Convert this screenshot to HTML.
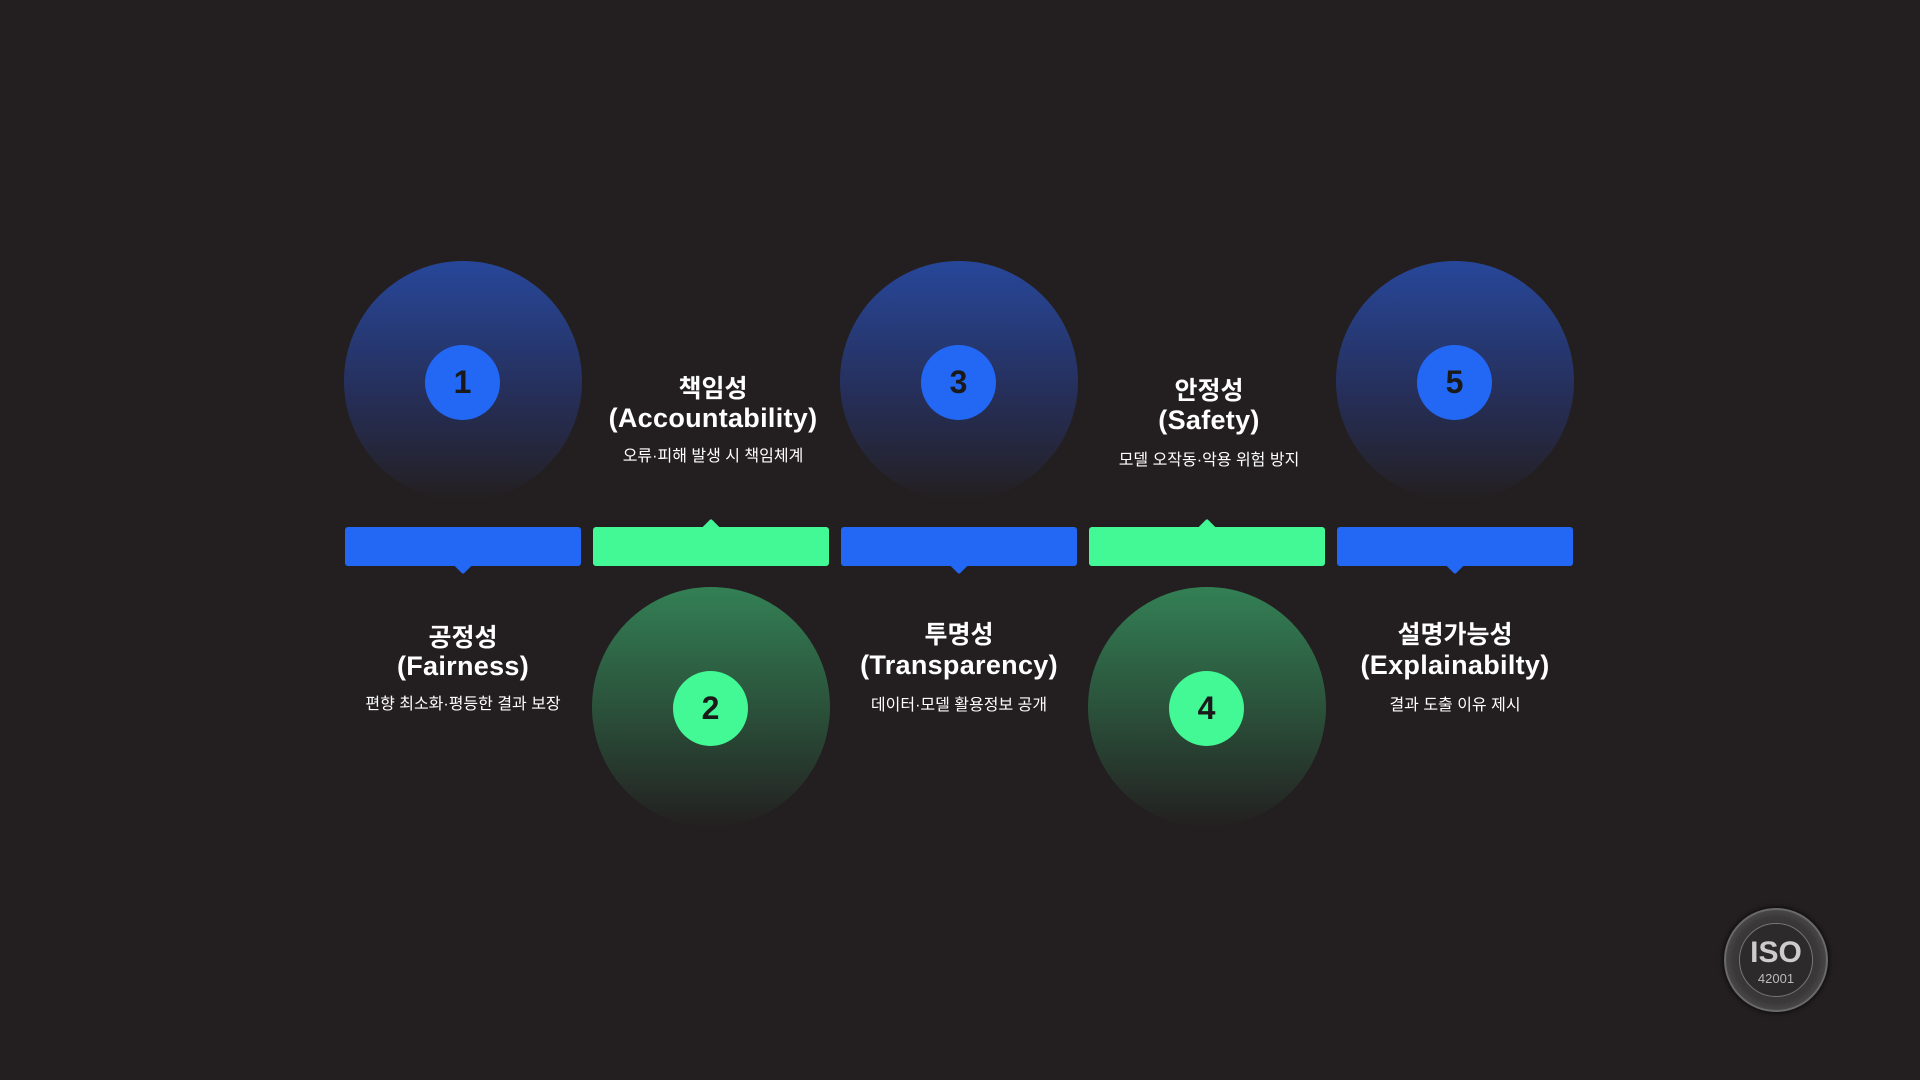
<!DOCTYPE html>
<html><head><meta charset="utf-8"><style>
*{margin:0;padding:0;box-sizing:border-box}
body{width:1920px;height:1080px;background:#231f20;position:relative;overflow:hidden;font-family:"Liberation Sans","Noto Sans CJK KR",sans-serif;color:#fff}
.big{position:absolute;width:238px;height:240px;border-radius:50%}
.b{background:linear-gradient(180deg,#27479a 0%,#262f5a 55%,#231f20 100%)}
.g{background:linear-gradient(180deg,#338055 0%,#2a4d38 55%,#231f20 100%)}
.sm{position:absolute;width:75px;height:75px;border-radius:50%;left:81px;top:84px;display:flex;align-items:center;justify-content:center;font-weight:bold;font-size:32px;color:#1a1a1a}
.b .sm{background:#2268f5}
.g .sm{background:#43f995}
.bar{position:absolute;top:527px;width:236px;height:39px;border-radius:3px}
.bb{background:#2268f5}.bg{background:#43f995}
.nd,.nu{position:absolute;left:110px;width:16px;height:16px;transform:rotate(45deg);border-radius:2px}
.nd{top:28px}.nu{top:-5px}
.bb .nd{background:#2268f5}.bg .nu{background:#43f995}
.t{position:absolute;width:300px;text-align:center;font-weight:bold}
.k{font-size:25px}
.e{font-size:27px;letter-spacing:0.3px}
.s{font-size:16px;font-weight:normal}
</style></head><body>
<div class="big b" style="left:344px;top:261px"><div class="sm">1</div></div>
<div class="big g" style="left:592px;top:587px"><div class="sm">2</div></div>
<div class="big b" style="left:840px;top:261px"><div class="sm">3</div></div>
<div class="big g" style="left:1088px;top:587px"><div class="sm">4</div></div>
<div class="big b" style="left:1336px;top:261px"><div class="sm">5</div></div>

<div class="bar bb" style="left:345px"><div class="nd"></div></div>
<div class="bar bg" style="left:593px"><div class="nu"></div></div>
<div class="bar bb" style="left:841px"><div class="nd"></div></div>
<div class="bar bg" style="left:1089px"><div class="nu"></div></div>
<div class="bar bb" style="left:1337px"><div class="nd"></div></div>

<div class="t k" style="left:563px;top:369px">책임성</div>
<div class="t e" style="left:563px;top:403px">(Accountability)</div>
<div class="t s" style="left:563px;top:442px">오류·피해 발생 시 책임체계</div>

<div class="t k" style="left:1059px;top:371px">안정성</div>
<div class="t e" style="left:1059px;top:405px">(Safety)</div>
<div class="t s" style="left:1059px;top:446px">모델 오작동·악용 위험 방지</div>

<div class="t k" style="left:313px;top:618px">공정성</div>
<div class="t e" style="left:313px;top:651px">(Fairness)</div>
<div class="t s" style="left:313px;top:690px">편향 최소화·평등한 결과 보장</div>

<div class="t k" style="left:809px;top:615px">투명성</div>
<div class="t e" style="left:809px;top:650px">(Transparency)</div>
<div class="t s" style="left:809px;top:691px">데이터·모델 활용정보 공개</div>

<div class="t k" style="left:1305px;top:615px">설명가능성</div>
<div class="t e" style="left:1305px;top:650px">(Explainabilty)</div>
<div class="t s" style="left:1305px;top:691px">결과 도출 이유 제시</div>

<div style="position:absolute;left:1724px;top:908px;width:104px;height:104px;border-radius:50%;background:radial-gradient(circle,#2e2c2d 0%,#3a3839 60%,#555 80%,#2a2829 100%);border:2px solid #6a6869;box-shadow:0 0 6px #000">
<div style="position:absolute;left:13px;top:13px;width:74px;height:74px;border-radius:50%;border:1px solid #777;background:#2c2a2b"></div>
<div style="position:absolute;width:100%;top:26px;text-align:center;font-weight:bold;font-size:30px;color:#ccc">ISO</div>
<div style="position:absolute;width:100%;top:61px;text-align:center;font-size:13px;color:#bbb">42001</div>
</div>
</body></html>
